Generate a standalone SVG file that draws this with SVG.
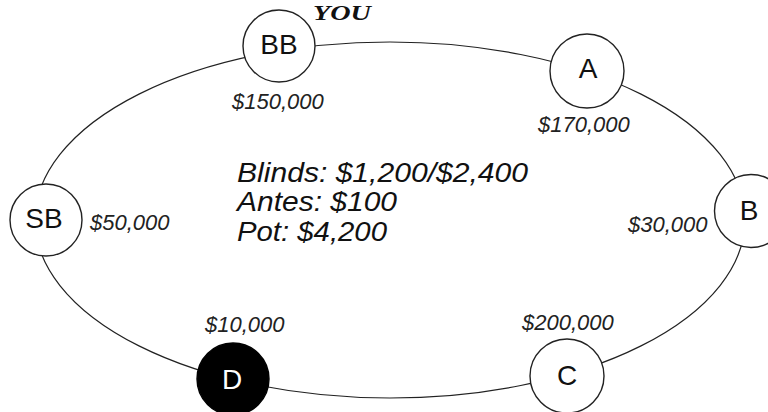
<svg xmlns="http://www.w3.org/2000/svg" width="768" height="412" viewBox="0 0 768 412">
<style>
.seat{fill:#fff;stroke:#222;stroke-width:1.4}
.dealer{fill:#000;stroke:#000;stroke-width:1.4}
.lbl{font-family:"Liberation Sans",Arial,sans-serif;font-size:28px;fill:#111;text-anchor:middle}
.dlbl{font-family:"Liberation Sans",Arial,sans-serif;font-size:28px;fill:#fff;text-anchor:middle}
.amt{font-family:"Liberation Sans",Arial,sans-serif;font-size:22px;font-style:italic;fill:#222}
.info{font-family:"Liberation Sans",Arial,sans-serif;font-size:27px;font-style:italic;fill:#111}
.you{font-family:"Liberation Serif","Times New Roman",serif;font-size:21px;font-style:italic;font-weight:bold;fill:#111}
</style>
<rect width="768" height="412" fill="#fff"/>
<g id="connectors">
<ellipse cx="390" cy="220" rx="355" ry="178" fill="none" stroke="#222" stroke-width="1.2"/>
</g>
<g id="BB"><circle class="seat" cx="279" cy="46" r="36"/><text class="lbl" x="279" y="54">BB</text></g>
<g id="A"><circle class="seat" cx="587" cy="71" r="37"/><text class="lbl" x="588" y="78">A</text></g>
<g id="SB"><circle class="seat" cx="46" cy="220" r="36"/><text class="lbl" x="44" y="228">SB</text></g>
<g id="B"><circle class="seat" cx="751" cy="211" r="36.5"/><text class="lbl" x="749" y="220">B</text></g>
<g id="D"><circle class="dealer" cx="233" cy="379" r="36"/><text class="dlbl" x="232" y="389">D</text></g>
<g id="C"><circle class="seat" cx="567" cy="376" r="37"/><text class="lbl" x="567" y="385">C</text></g>
<g id="labels">
<text class="you" x="313" y="20" textLength="58" lengthAdjust="spacingAndGlyphs">YOU</text>
<text class="amt" x="232" y="109">$150,000</text>
<text class="amt" x="538" y="132">$170,000</text>
<text class="amt" x="90" y="230">$50,000</text>
<text class="amt" x="628" y="232">$30,000</text>
<text class="amt" x="205" y="332">$10,000</text>
<text class="amt" x="522" y="330">$200,000</text>
<text class="info" x="237" y="182" textLength="291" lengthAdjust="spacingAndGlyphs">Blinds: $1,200/$2,400</text>
<text class="info" x="237" y="211" textLength="160" lengthAdjust="spacingAndGlyphs">Antes: $100</text>
<text class="info" x="237" y="241" textLength="150" lengthAdjust="spacingAndGlyphs">Pot: $4,200</text>
</g>
</svg>
